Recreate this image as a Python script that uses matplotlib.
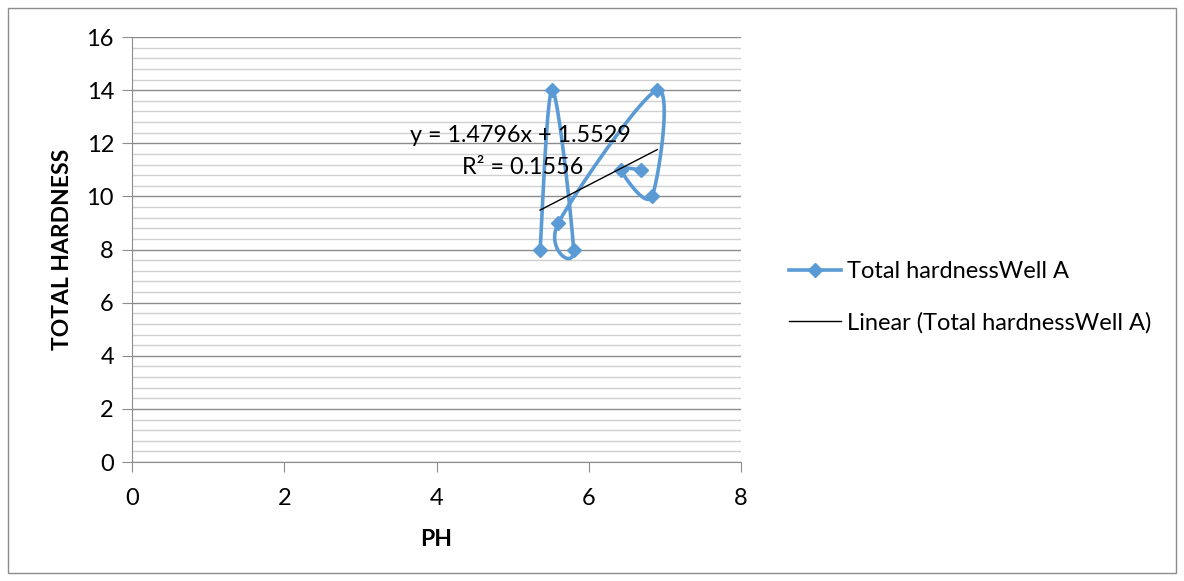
import numpy as np
import matplotlib.pyplot as plt
from matplotlib.patches import Rectangle

# data (order in which the smoothed line visits the points)
ph = [5.36, 5.52, 5.80, 5.60, 6.90, 6.83, 6.42, 6.68]
hardness = [8, 14, 8, 9, 14, 10, 11, 11]
slope, intercept = 1.4796, 1.5529
eq_text = "y = 1.4796x + 1.5529"
r2_text = "R² = 0.1556"

blue = "#5b9bd5"
plt.rcParams['font.family'] = ['Lato', 'DejaVu Sans']

fig = plt.figure(figsize=(11.84, 5.81), dpi=100)
ax = fig.add_axes([0.1115, 0.2048, 0.5144, 0.7315])

xmin, xmax, ymin, ymax = 0, 8, 0, 16
# pixels per data unit, used so the smoothing is done in screen space like Excel
sx = 609 / (xmax - xmin)
sy = 425 / (ymax - ymin)


def smooth(xs, ys, n=40):
    p = np.column_stack([np.array(xs) * sx, np.array(ys) * sy])
    p = np.vstack([p[0], p, p[-1]])
    out = []
    for i in range(1, len(p) - 2):
        p0, p1, p2, p3 = p[i - 1], p[i], p[i + 1], p[i + 2]
        c1 = p1 + (p2 - p0) / 6
        c2 = p2 - (p3 - p1) / 6
        t = np.linspace(0, 1, n)[:, None]
        seg = ((1 - t) ** 3) * p1 + 3 * ((1 - t) ** 2) * t * c1 + 3 * (1 - t) * t ** 2 * c2 + t ** 3 * p2
        out.append(seg)
    out = np.vstack(out)
    return out[:, 0] / sx, out[:, 1] / sy


cx, cy = smooth(ph, hardness)
ax.plot(cx, cy, color=blue, lw=2.6, zorder=3)
ax.plot(ph, hardness, "D", color=blue, ms=7, zorder=4)
line_h, = ax.plot([], [], color=blue, lw=2.6, marker="D", ms=7, label="Total hardnessWell A")

tx = np.array([min(ph), max(ph)])
trend, = ax.plot(tx, slope * tx + intercept, color="black", lw=1, zorder=5,
                 label="Linear (Total hardnessWell A)")

ax.set_xlim(xmin, xmax)
ax.set_ylim(ymin, ymax)
ax.set_xticks(np.arange(0, 9, 2))
ax.set_yticks(np.arange(0, 17, 2))
ax.set_yticks(np.arange(0, 16.01, 0.4), minor=True)
ax.grid(which="major", axis="y", color="#8c8c8c", lw=1)
ax.grid(which="minor", axis="y", color="#d0d0d0", lw=1)
ax.tick_params(axis="y", which="minor", length=0)
ax.tick_params(which="major", length=7, color="#8c8c8c", labelsize=17, pad=6)
ax.tick_params(axis="x", pad=12)
for s in ["top", "right"]:
    ax.spines[s].set_visible(False)
for s in ["left", "bottom"]:
    ax.spines[s].set_color("#8c8c8c")
ax.set_axisbelow(True)

ax.set_xlabel("PH", fontsize=16.5, fontweight="bold", labelpad=14)
ax.set_ylabel("TOTAL HARDNESS", fontsize=16.5, fontweight="bold", labelpad=10)

fig.text(410 / 1184, 1 - 136 / 581, eq_text, fontsize=16.8, va="center", ha="left")
fig.text(462 / 1184, 1 - 168 / 581, r2_text, fontsize=16.8, va="center", ha="left")

handles = [line_h, trend]
fig.legend(handles=handles, labels=[h.get_label() for h in handles],
           loc="center left", bbox_to_anchor=(0.6487, 0.488), frameon=False,
           fontsize=17, handlelength=2.2, handletextpad=0.25, labelspacing=1.25)

fig.add_artist(Rectangle((8 / 1184, 8 / 581), 1168 / 1184, 565 / 581, transform=fig.transFigure,
                         fill=False, edgecolor="#8c8c8c", lw=1))

fig.savefig("out.png", dpi=100)
